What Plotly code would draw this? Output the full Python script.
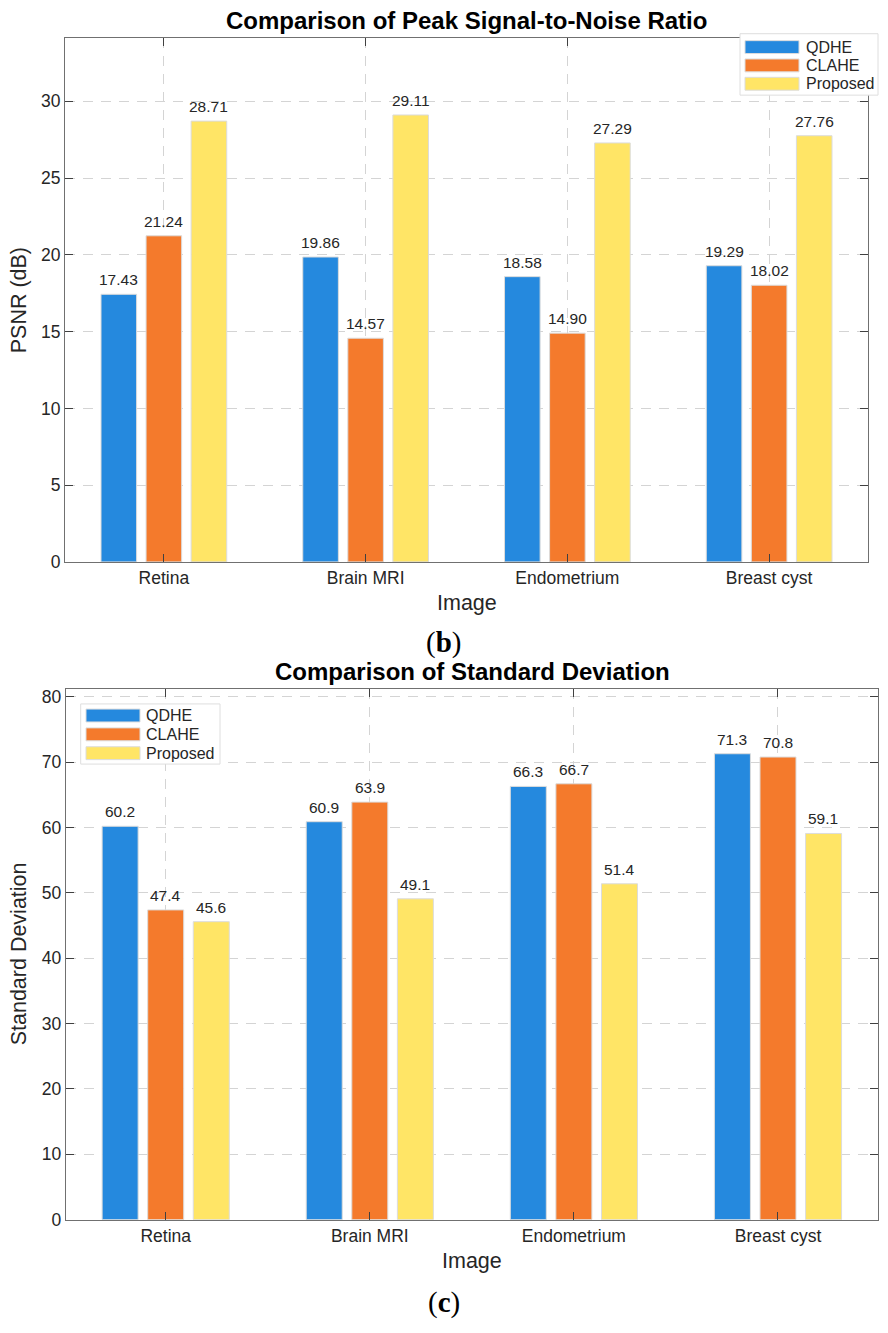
import plotly.graph_objects as go

# data
images = ['Retina', 'Brain MRI', 'Endometrium', 'Breast cyst']
methods = ['QDHE', 'CLAHE', 'Proposed']

psnr_qdhe = [17.43, 19.86, 18.58, 19.29]
psnr_clahe = [21.24, 14.57, 14.90, 18.02]
psnr_proposed = [28.71, 29.11, 27.29, 27.76]

std_qdhe = [60.2, 60.9, 66.3, 71.3]
std_clahe = [47.4, 63.9, 66.7, 70.8]
std_proposed = [45.6, 49.1, 51.4, 59.1]

colors = ['#2589DE', '#F47A2C', '#FFE566']

W, H = 888, 1333
FONT = 'Liberation Sans, Arial, sans-serif'
SERIF = 'Liberation Serif, Times New Roman, serif'
TXT = '#262626'


def px(x):
    return x / W


def py(y):
    return 1 - y / H


fig = go.Figure()

panels = [
    ('x', 'y', [psnr_qdhe, psnr_clahe, psnr_proposed], '{:.2f}', 45),
    ('x2', 'y2', [std_qdhe, std_clahe, std_proposed], '{:.1f}', 45.5),
]
for xa, ya, series, fmt, slot in panels:
    for k, (name, vals, c) in enumerate(zip(methods, series, colors)):
        fig.add_trace(go.Bar(
            x=images, y=vals, name=name,
            marker=dict(color=c, line=dict(color='#dcdcdc', width=1)),
            showlegend=False, hoverinfo='skip', xaxis=xa, yaxis=ya
        ))
        # value labels sitting a little above each bar
        for cat, v in zip(images, vals):
            fig.add_annotation(text=fmt.format(v), x=cat, y=v, xref=xa, yref=ya,
                               xshift=(k - 1) * slot, yshift=4,
                               xanchor='center', yanchor='bottom', showarrow=False,
                               font=dict(family=FONT, size=15.5, color=TXT))

grid = dict(showgrid=True, gridcolor='#d4d4d4', gridwidth=1, griddash='10px,8px')
axline = dict(showline=True, linecolor='#707070', linewidth=1, mirror='allticks',
              ticks='inside', ticklen=8, tickcolor='#404040', zeroline=False,
              tickfont=dict(family=FONT, size=17.5, color=TXT))

fig.update_layout(
    width=W, height=H, autosize=False,
    margin=dict(l=0, r=0, t=0, b=0),
    paper_bgcolor='white', plot_bgcolor='white',
    barmode='group', bargap=0.33, bargroupgap=0.21,
    font=dict(family=FONT, color=TXT),
    xaxis=dict(domain=[px(65), px(868)], anchor='y', range=[-0.49, 3.49], **grid, **axline),
    yaxis=dict(domain=[py(565), py(36.7)], anchor='x', range=[0, 34.1], dtick=5, **grid, **axline),
    xaxis2=dict(domain=[px(65.7), px(878)], anchor='y2', range=[-0.49, 3.49], **grid, **axline),
    yaxis2=dict(domain=[py(1228.7), py(693.3)], anchor='x2', range=[0, 81.2], dtick=10, **grid, **axline),
)

# titles, axis titles and panel letters
notes = [
    ('<b>Comparison of Peak Signal-to-Noise Ratio</b>', 466.5, 19, 24, FONT, 0, 'black'),
    ('<b>Comparison of Standard Deviation</b>', 472, 676, 24, FONT, 0, 'black'),
    ('Image', 466.5, 606, 21.5, FONT, 0, TXT),
    ('Image', 472, 1270, 21.5, FONT, 0, TXT),
    ('PSNR (dB)', 19, 301, 21.5, FONT, -90, TXT),
    ('Standard Deviation', 19, 961, 21.5, FONT, -90, TXT),
    ('(<b>b</b>)', 443, 646, 29, SERIF, 0, 'black'),
    ('(<b>c</b>)', 444, 1312, 29, SERIF, 0, 'black'),
]
for text, x, y, size, fam, ang, col in notes:
    fig.add_annotation(text=text, x=px(x), y=py(y), xref='paper', yref='paper',
                       xanchor='center', yanchor='middle', showarrow=False,
                       textangle=ang, font=dict(family=fam, size=size, color=col))

# MATLAB-like legends drawn as boxes with wide swatches
legends = [
    dict(box=(740, 32, 878, 94), sw_x=(745, 799), tx=804, ys=[45.5, 64, 82.5]),
    dict(box=(80.7, 708.3, 220, 769), sw_x=(86, 140), tx=144, ys=[720, 739, 758]),
]
for lg in legends:
    x0, y0, x1, y1 = lg['box']
    fig.add_shape(type='rect', xref='paper', yref='paper',
                  x0=px(x0), x1=px(x1), y0=py(y1), y1=py(y0),
                  fillcolor='white', line=dict(color='#dedede', width=1), layer='above')
    for name, c, yc in zip(methods, colors, lg['ys']):
        fig.add_shape(type='rect', xref='paper', yref='paper',
                      x0=px(lg['sw_x'][0]), x1=px(lg['sw_x'][1]),
                      y0=py(yc + 6.5), y1=py(yc - 6.5),
                      fillcolor=c, line=dict(color='#dcdcdc', width=1), layer='above')
        fig.add_annotation(text=name, x=px(lg['tx']), y=py(yc), xref='paper', yref='paper',
                           xanchor='left', yanchor='middle', showarrow=False,
                           font=dict(family=FONT, size=16, color=TXT))

# drop the default body margin so the figure fills the window exactly
fig.write_html("out.html", config={'displayModeBar': False},
               post_script="document.body.style.margin='0';document.body.style.overflow='hidden';")
